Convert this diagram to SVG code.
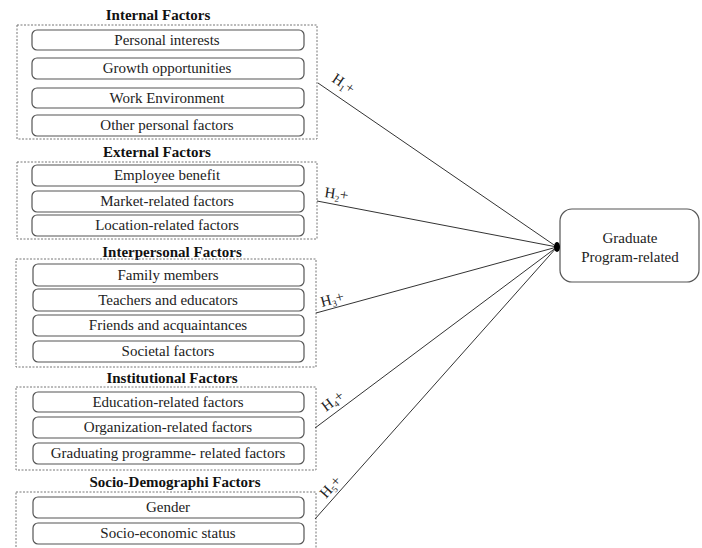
<svg xmlns="http://www.w3.org/2000/svg" width="702" height="548" viewBox="0 0 702 548">
<style>
.grp{fill:none;stroke:#777;stroke-width:1;stroke-dasharray:2 1.5}
.item{fill:#fff;stroke:#555;stroke-width:1.2}
.t{font-family:"Liberation Serif","Times New Roman",serif;font-size:15px;fill:#222;text-anchor:middle}
.h{font-family:"Liberation Serif","Times New Roman",serif;font-size:15px;font-weight:bold;fill:#111;text-anchor:middle}
.lab{font-family:"Liberation Serif","Times New Roman",serif;font-size:15px;fill:#222}
.sub{font-size:9px}
.c{stroke:#333;stroke-width:1;fill:none}
</style>
<rect width="702" height="548" fill="#fff"/>
<g id="internal">
<text class="h" x="158" y="20">Internal Factors</text>
<rect class="grp" x="17" y="25" width="300" height="114"/>
<rect class="item" x="32" y="30" width="272" height="20" rx="5"/><text class="t" x="167" y="45">Personal interests</text>
<rect class="item" x="32" y="58" width="272" height="21" rx="5"/><text class="t" x="167" y="73">Growth opportunities</text>
<rect class="item" x="32" y="88" width="272" height="20" rx="5"/><text class="t" x="167" y="103">Work Environment</text>
<rect class="item" x="32" y="115" width="272" height="21" rx="5"/><text class="t" x="167" y="130">Other personal factors</text>
</g>
<g id="external">
<text class="h" x="157" y="157">External Factors</text>
<rect class="grp" x="17" y="162" width="300" height="77"/>
<rect class="item" x="32" y="165" width="272" height="21" rx="5"/><text class="t" x="167" y="180">Employee benefit</text>
<rect class="item" x="32" y="191" width="272" height="21" rx="5"/><text class="t" x="167" y="206">Market-related factors</text>
<rect class="item" x="32" y="215" width="272" height="21" rx="5"/><text class="t" x="167" y="230">Location-related factors</text>
</g>
<g id="interpersonal">
<text class="h" x="172" y="257">Interpersonal Factors</text>
<rect class="grp" x="16" y="259" width="300" height="108"/>
<rect class="item" x="33" y="264" width="271" height="22" rx="5"/><text class="t" x="168" y="280">Family members</text>
<rect class="item" x="33" y="289" width="271" height="22" rx="5"/><text class="t" x="168" y="305">Teachers and educators</text>
<rect class="item" x="33" y="315" width="271" height="21" rx="5"/><text class="t" x="168" y="330">Friends and acquaintances</text>
<rect class="item" x="33" y="341" width="271" height="21" rx="5"/><text class="t" x="168" y="356">Societal factors</text>
</g>
<g id="institutional">
<text class="h" x="172" y="383">Institutional Factors</text>
<rect class="grp" x="16" y="387" width="300" height="83"/>
<rect class="item" x="33" y="392" width="271" height="20" rx="5"/><text class="t" x="168" y="407">Education-related factors</text>
<rect class="item" x="33" y="417" width="271" height="21" rx="5"/><text class="t" x="168" y="432">Organization-related factors</text>
<rect class="item" x="33" y="443" width="271" height="21" rx="5"/><text class="t" x="168" y="458">Graduating programme- related factors</text>
</g>
<g id="socio">
<text class="h" x="175" y="487">Socio-Demographi Factors</text>
<rect class="grp" x="16" y="492" width="300" height="60"/>
<rect class="item" x="33" y="497" width="271" height="21" rx="5"/><text class="t" x="168" y="512">Gender</text>
<rect class="item" x="33" y="523" width="271" height="21" rx="5"/><text class="t" x="168" y="538">Socio-economic status</text>
</g>
<g id="target">
<rect class="item" x="560" y="209" width="139" height="73" rx="12"/>
<text class="t" x="630" y="243">Graduate</text>
<text class="t" x="630" y="262">Program-related</text>
</g>
<g id="connectors">
<line class="c" x1="318" y1="83" x2="557" y2="247"/>
<line class="c" x1="317" y1="201" x2="557" y2="247"/>
<line class="c" x1="316" y1="313" x2="557" y2="247"/>
<line class="c" x1="315" y1="428" x2="557" y2="247"/>
<line class="c" x1="315" y1="519" x2="557" y2="247"/>
<ellipse cx="557" cy="247" rx="3" ry="5" fill="#000"/>
<text class="lab" transform="translate(331,81) rotate(34)">H<tspan class="sub" dy="3">1</tspan><tspan dy="-3">+</tspan></text>
<text class="lab" transform="translate(324,197) rotate(8)">H<tspan class="sub" dy="3">2</tspan><tspan dy="-3">+</tspan></text>
<text class="lab" transform="translate(322,307) rotate(-15)">H<tspan class="sub" dy="3">3</tspan><tspan dy="-3">+</tspan></text>
<text class="lab" transform="translate(326,412) rotate(-37)">H<tspan class="sub" dy="3">4</tspan><tspan dy="-3">+</tspan></text>
<text class="lab" transform="translate(326,499) rotate(-48)">H<tspan class="sub" dy="3">5</tspan><tspan dy="-3">+</tspan></text>
</g>
</svg>
